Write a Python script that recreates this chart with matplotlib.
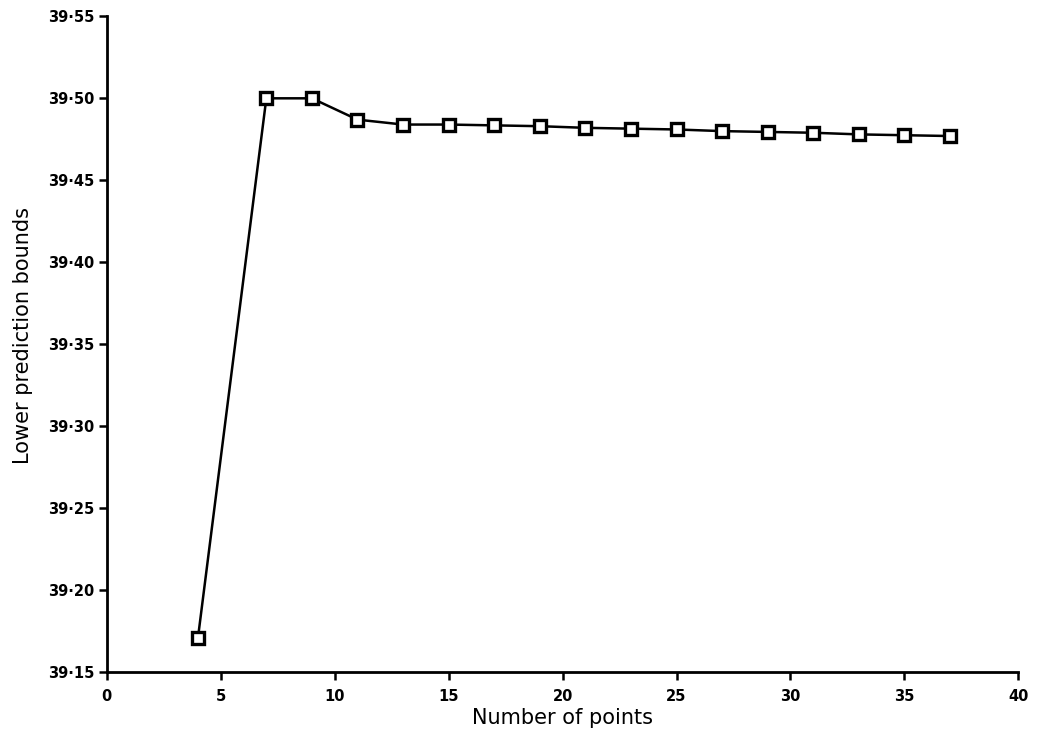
import matplotlib.pyplot as plt
from matplotlib.ticker import FuncFormatter

# number of points used vs lower prediction bound
n_points = [4, 7, 9, 11, 13, 15, 17, 19, 21, 23, 25, 27, 29, 31, 33, 35, 37]
lower_bound = [39.171, 39.500, 39.500, 39.487, 39.484, 39.484, 39.4835, 39.483,
               39.482, 39.4815, 39.481, 39.480, 39.4795, 39.479, 39.478, 39.4775, 39.477]

x_ticks = [0, 5, 10, 15, 20, 25, 30, 35, 40]
y_ticks = [39.15, 39.20, 39.25, 39.30, 39.35, 39.40, 39.45, 39.50, 39.55]

fig = plt.figure(figsize=(10.37, 7.42), dpi=100)
ax = fig.add_axes([0.103, 0.094, 0.879, 0.884])

ax.plot(n_points, lower_bound, color="black", lw=1.8, marker="s", ms=9,
        mfc="white", mec="black", mew=2.4, clip_on=False, zorder=3)

ax.set_xlim(0, 40)
ax.set_ylim(39.15, 39.55)
ax.set_xticks(x_ticks)
ax.set_yticks(y_ticks)
ax.yaxis.set_major_formatter(FuncFormatter(lambda v, p: f"{v:.2f}".replace(".", "·")))

for side in ["top", "right"]:
    ax.spines[side].set_visible(False)
for side in ["left", "bottom"]:
    ax.spines[side].set_linewidth(2)

ax.tick_params(axis="both", direction="out", length=6, width=1.8, labelsize=10.5)
ax.tick_params(axis="y", pad=3)
ax.tick_params(axis="x", pad=6)
for lab in ax.get_xticklabels() + ax.get_yticklabels():
    lab.set_fontweight("bold")

ax.set_xlabel("Number of points", fontsize=15)
ax.set_ylabel("Lower prediction bounds", fontsize=15)
ax.xaxis.set_label_coords(0.5, -0.055)
ax.yaxis.set_label_coords(-0.081, 0.514)

fig.savefig("out.png", dpi=100)
